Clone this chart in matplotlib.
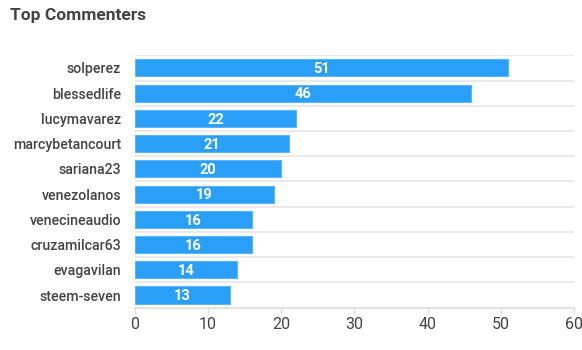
import matplotlib.pyplot as plt

plt.rcParams['font.family'] = ['Roboto', 'DejaVu Sans']

names = ['solperez', 'blessedlife', 'lucymavarez', 'marcybetancourt', 'sariana23',
         'venezolanos', 'venecineaudio', 'cruzamilcar63', 'evagavilan', 'steem-seven']
comments = [51, 46, 22, 21, 20, 19, 16, 16, 14, 13]
x_ticks = [0, 10, 20, 30, 40, 50, 60]

bar_color = '#2a9ff8'
text_color = '#444444'
grid_color = '#e6e6e6'

fig = plt.figure(figsize=(5.82, 3.5), dpi=100)
ax = fig.add_axes([0.232, 0.121, 0.754, 0.721])

pos = list(range(len(names)))
bars = ax.barh(pos, comments, height=0.68, color=bar_color,
               edgecolor='#5ab4fa', linewidth=0.8, zorder=3)
for p, v in zip(pos, comments):
    ax.text(v / 2, p + 0.05, str(v), ha='center', va='center', color='white',
            fontsize=10.5, fontweight='bold', zorder=4)

ax.set_xlim(0, 60)
ax.set_ylim(len(names) - 0.5, -0.5)
ax.set_yticks(pos)
ax.set_yticklabels(names, fontsize=10.2, color=text_color, fontweight='medium')
ax.set_xticks(x_ticks)
ax.set_xticklabels([str(t) for t in x_ticks], fontsize=11.5, color=text_color)

# grid lines between categories
for b in [p - 0.5 for p in pos]:
    ax.axhline(b, color=grid_color, linewidth=1.2, zorder=1)

for s in ['top', 'right', 'left']:
    ax.spines[s].set_visible(False)
ax.spines['bottom'].set_color('#dddddd')
ax.spines['bottom'].set_linewidth(1.2)
ax.tick_params(axis='y', length=0, pad=10)
ax.tick_params(axis='x', length=4, color='#dddddd', width=1, pad=3)

fig.text(0.017, 0.955, 'Top Commenters', fontsize=12.5, fontweight='bold',
         color=text_color, ha='left', va='center')

fig.savefig('out.png', dpi=100)
